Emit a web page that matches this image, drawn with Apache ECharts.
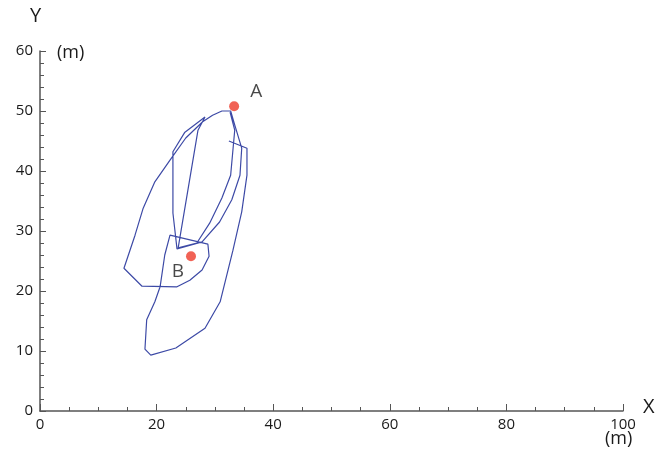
<!DOCTYPE html>
<html>
<head>
<meta charset="utf-8">
<script src="https://cdn.jsdelivr.net/npm/echarts@6/dist/echarts.min.js"></script>
<style>
  html, body { margin: 0; padding: 0; background: #fff; }
  #chart { width: 662px; height: 463px; }
</style>
</head>
<body>
<div id="chart"></div>
<script>
// Trajectory, x and y in metres, in the order travelled
const pathX = [32.4, 35.5, 35.5, 34.6, 33.1, 30.9, 28.3, 23.3, 19.0, 18.0, 18.3, 19.7, 20.6, 21.4, 22.3,
  28.8, 29.0, 27.8, 25.7, 23.5, 17.5, 14.4, 16.3, 17.7, 19.7, 22.3, 25.0, 27.9, 29.6, 31.2, 32.7,
  33.4, 34.6, 34.3, 32.9, 30.8, 27.8, 23.5, 22.8, 22.8, 22.8, 24.8, 28.3, 27.1, 23.7, 26.9, 29.1,
  31.2, 32.7, 33.4, 32.6];
const pathY = [45.0, 43.8, 39.3, 33.2, 26.8, 18.2, 13.8, 10.5, 9.3, 10.3, 15.2, 18.2, 20.7, 26.0, 29.3,
  27.8, 25.8, 23.5, 21.8, 20.7, 20.8, 23.8, 29.3, 33.8, 38.2, 41.8, 45.5, 48.2, 49.3, 50.0, 50.0,
  47.7, 43.8, 39.3, 35.2, 31.5, 28.2, 27.0, 33.0, 39.3, 43.2, 46.4, 49.0, 46.8, 27.2, 28.0, 31.3,
  35.5, 39.3, 46.8, 49.8];

// Marked points
const pointNames = ['A', 'B'];
const pointX = [33.3, 25.9];
const pointY = [50.8, 25.8];

const xMin = 0, xMax = 100, xStep = 20;
const yMin = 0, yMax = 60, yStep = 10;

const pathData = pathX.map((x, i) => [x, pathY[i]]);
const pointData = pointX.map((x, i) => ({ name: pointNames[i], value: [x, pointY[i]] }));

const FONT = 'Open Sans';
const TEXT = '#1a1a1a';
const AXIS = '#555555';

const chart = echarts.init(document.getElementById('chart'), null, { renderer: 'canvas' });

chart.setOption({
  animation: false,
  backgroundColor: '#ffffff',
  grid: { left: 40, right: 39, top: 51, bottom: 52 },
  xAxis: {
    type: 'value', min: xMin, max: xMax, interval: xStep,
    axisLine: { lineStyle: { color: AXIS, width: 1.5 } },
    axisTick: { inside: true, length: 7, lineStyle: { color: AXIS, width: 1 } },
    minorTick: { show: true, splitNumber: 4, length: 4, lineStyle: { color: AXIS, width: 1 } },
    splitLine: { show: false },
    axisLabel: { color: TEXT, fontFamily: FONT, fontSize: 15, margin: 6 }
  },
  yAxis: {
    type: 'value', min: yMin, max: yMax, interval: yStep,
    axisLine: { show: true, lineStyle: { color: AXIS, width: 1.5 } },
    axisTick: { show: true, inside: true, length: 6, lineStyle: { color: AXIS, width: 1 } },
    minorTick: { show: true, splitNumber: 5, length: 4, lineStyle: { color: AXIS, width: 1 } },
    splitLine: { show: false },
    axisLabel: { color: TEXT, fontFamily: FONT, fontSize: 15, margin: 7 }
  },
  series: [
    {
      type: 'line',
      data: pathData,
      showSymbol: false,
      lineStyle: { color: '#3d4aa6', width: 1.2 },
      z: 2
    },
    {
      type: 'scatter',
      data: pointData,
      symbolSize: 10,
      itemStyle: { color: '#ee3b2b' },
      label: {
        show: true,
        formatter: '{b}',
        color: TEXT,
        fontFamily: FONT,
        fontSize: 19
      },
      labelLayout: function (params) {
        return params.dataIndex === 0
          ? { dx: 22, dy: -15 }
          : { dx: -13, dy: 15 };
      },
      z: 3
    }
  ],
  graphic: [
    { type: 'text', left: 30, top: 6, style: { text: 'Y', fill: TEXT, font: '20px "' + FONT + '"' } },
    { type: 'text', left: 57, top: 44, style: { text: '(m)', fill: TEXT, font: '18px "' + FONT + '"' } },
    { type: 'text', left: 643, top: 397, style: { text: 'X', fill: TEXT, font: '20px "' + FONT + '"' } },
    { type: 'text', left: 605, top: 430, style: { text: '(m)', fill: TEXT, font: '18px "' + FONT + '"' } }
  ]
});
</script>
</body>
</html>
